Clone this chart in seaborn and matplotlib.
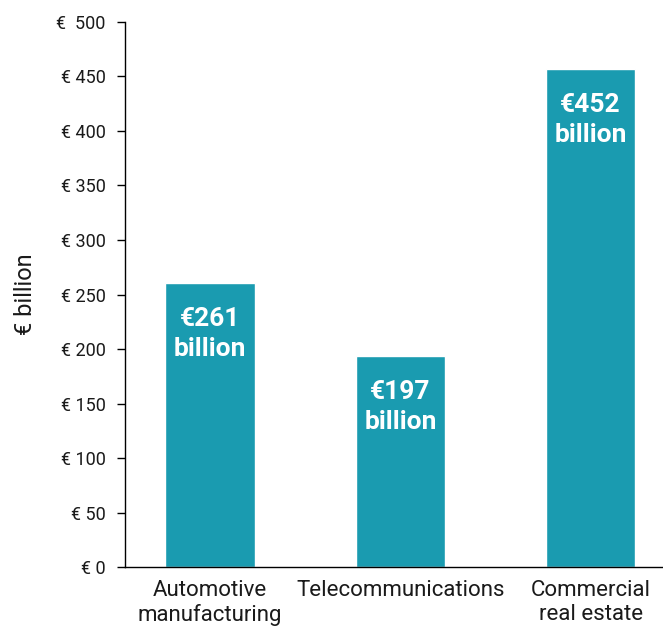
import matplotlib
matplotlib.use("Agg")
import matplotlib.pyplot as plt
import seaborn as sns
import pandas as pd

# data
categories = ["Automotive\nmanufacturing", "Telecommunications", "Commercial\nreal estate"]
values = [261, 194, 457]
value_labels = ["€261\nbillion", "€197\nbillion", "€452\nbillion"]
y_ticks = [0, 50, 100, 150, 200, 250, 300, 350, 400, 450, 500]
y_tick_labels = ["€ 0", "€ 50", "€ 100", "€ 150", "€ 200", "€ 250", "€ 300",
                 "€ 350", "€ 400", "€ 450", "€  500"]

BAR_COLOR = "#1a9bb0"
TEXT = "#1a1a1a"

sns.set_style("white")
plt.rcParams["font.family"] = ["Roboto", "DejaVu Sans"]

df = pd.DataFrame({"category": categories, "value": values})

fig = plt.figure(figsize=(6.63, 6.28), dpi=100)
ax = fig.add_axes([0.1885, 0.0971, 0.8115, 0.8679])

sns.barplot(data=df, x="category", y="value", color=BAR_COLOR, width=0.47,
            saturation=1, ax=ax)

for i, (v, lab) in enumerate(zip(values, value_labels)):
    ax.text(i, v - 47, lab, ha="center", va="center", color="white",
            fontsize=19, fontweight="bold", linespacing=1.3)

ax.set_xlim(-0.447, 2.38)
ax.set_ylim(0, 500)
ax.set_yticks(y_ticks)
ax.set_yticklabels(y_tick_labels, fontsize=13, color=TEXT)
ax.tick_params(axis="y", length=6, width=1, color="black", pad=8, left=True)
ax.set_xticks(range(len(categories)))
ax.set_xticklabels(categories, fontsize=16, color=TEXT, linespacing=1.2)
ax.tick_params(axis="x", length=0, pad=9)
ax.set_xlabel("")
ax.set_ylabel("€ billion", fontsize=17, labelpad=14, color=TEXT)

for s in ["top", "right"]:
    ax.spines[s].set_visible(False)
for s in ["left", "bottom"]:
    ax.spines[s].set_color("black")
    ax.spines[s].set_linewidth(1)

fig.savefig("out.png", dpi=100)
